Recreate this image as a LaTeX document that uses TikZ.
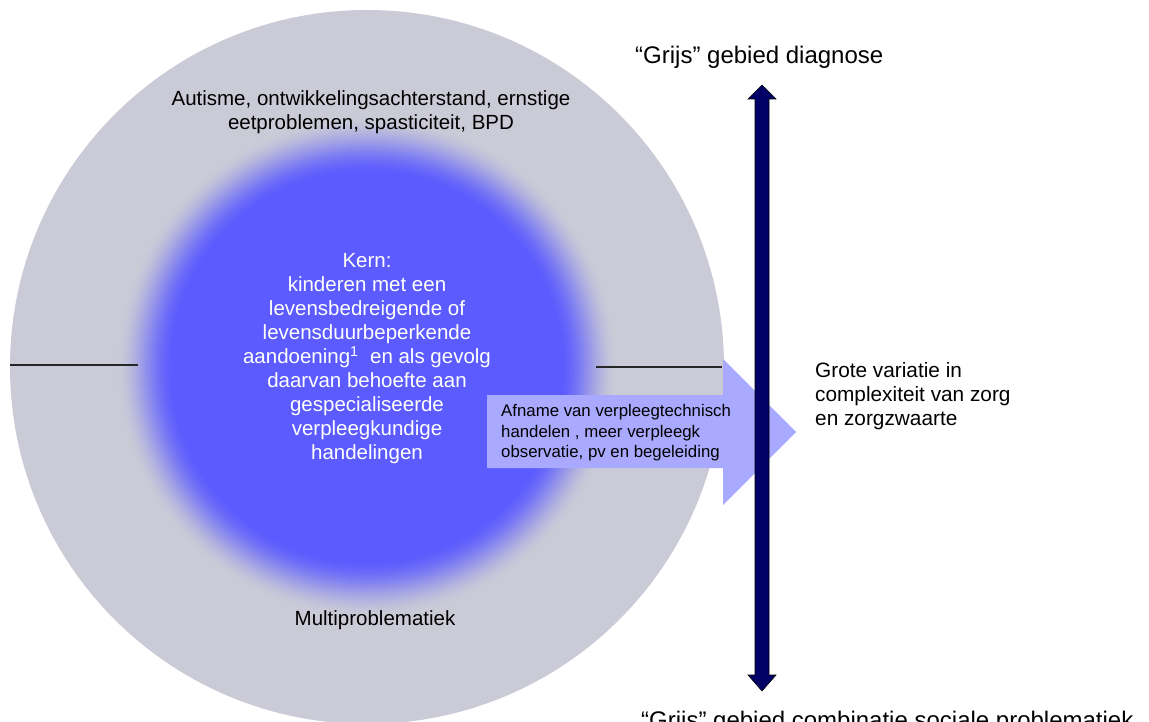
\documentclass[tikz,border=0pt]{standalone}
\usepackage{fontspec}
\setmainfont{Liberation Sans}
\definecolor{cblue}{HTML}{5B5BFF}
\definecolor{cgrey}{HTML}{CBCBD7}
\definecolor{carrow}{HTML}{A9A9FF}
\definecolor{cnavy}{HTML}{000066}
\tikzset{
  circtext/.style={font=\fontsize{20.5}{24}\selectfont, align=center, inner sep=0pt},
  sidetext/.style={font=\fontsize{20.8}{24}\selectfont, align=left, inner sep=0pt, anchor=west},
  greytext/.style={font=\fontsize{24}{28}\selectfont, inner sep=0pt, anchor=west},
  arrtext/.style={font=\fontsize{16.8}{20.5}\selectfont, align=left, inner sep=0pt, anchor=west},
  divline/.style={line width=1.3pt, black!85}
}
\begin{document}
\begin{tikzpicture}[x=1pt,y=-1pt]
\useasboundingbox (0,0) rectangle (1149,722);
% big circle
\coordinate (c) at (367,367);
\fill[cgrey] (c) circle (357);
\foreach \r in {252,251,...,192}{
  \pgfmathsetmacro{\t}{(252-\r)/60}
  \pgfmathsetmacro{\p}{100*\t*\t*(3-2*\t)}
  \fill[cblue!\p!cgrey] (c) circle (\r);
}
\fill[cblue] (c) circle (192);
% dividing lines
\coordinate (l1) at (10,365);
\coordinate (l2) at (138,365);
\coordinate (r1) at (596,367);
\coordinate (r2) at (722,367);
\draw[divline] (l1) -- (l2);
\draw[divline] (r1) -- (r2);
% texts in circle
\node[circtext] (top) at (371,112) {Autisme, ontwikkelingsachterstand, ernstige\\eetproblemen, spasticiteit, BPD};
\node[circtext, text=white] (kern) at (367,359) {Kern:\\kinderen met een\\levensbedreigende of\\levensduurbeperkende\\aandoening\textsuperscript{1}\ \ en als gevolg\\daarvan behoefte aan\\gespecialiseerde\\verpleegkundige\\handelingen};
\node[circtext] (multi) at (375,620) {Multiproblematiek};
% light arrow
\fill[carrow] (487,395) -- (723,395) -- (723,359) -- (796,432) -- (723,505) -- (723,468) -- (487,468) -- cycle;
\node[arrtext] (afn) at (501,433) {Afname van verpleegtechnisch\\handelen , meer verpleegk\\observatie, pv en begeleiding};
% navy double arrow
\draw[fill=cnavy, draw=black, line width=0.6pt]
  (762,85) -- (776,99) -- (769,99) -- (769,675) -- (776,675) -- (762,691) -- (748,675) -- (755,675) -- (755,99) -- (748,99) -- cycle;
\coordinate (atop) at (762,85);
\coordinate (abot) at (762,691);
% labels
\node[greytext] (diag) at (635,57) {“Grijs” gebied diagnose};
\node[sidetext] (grote) at (815,396) {Grote variatie in\\complexiteit van zorg\\en zorgzwaarte};
\node[greytext, anchor=base west] (soc) at (641,728) {“Grijs” gebied combinatie sociale problematiek};
\end{tikzpicture}
\end{document}
